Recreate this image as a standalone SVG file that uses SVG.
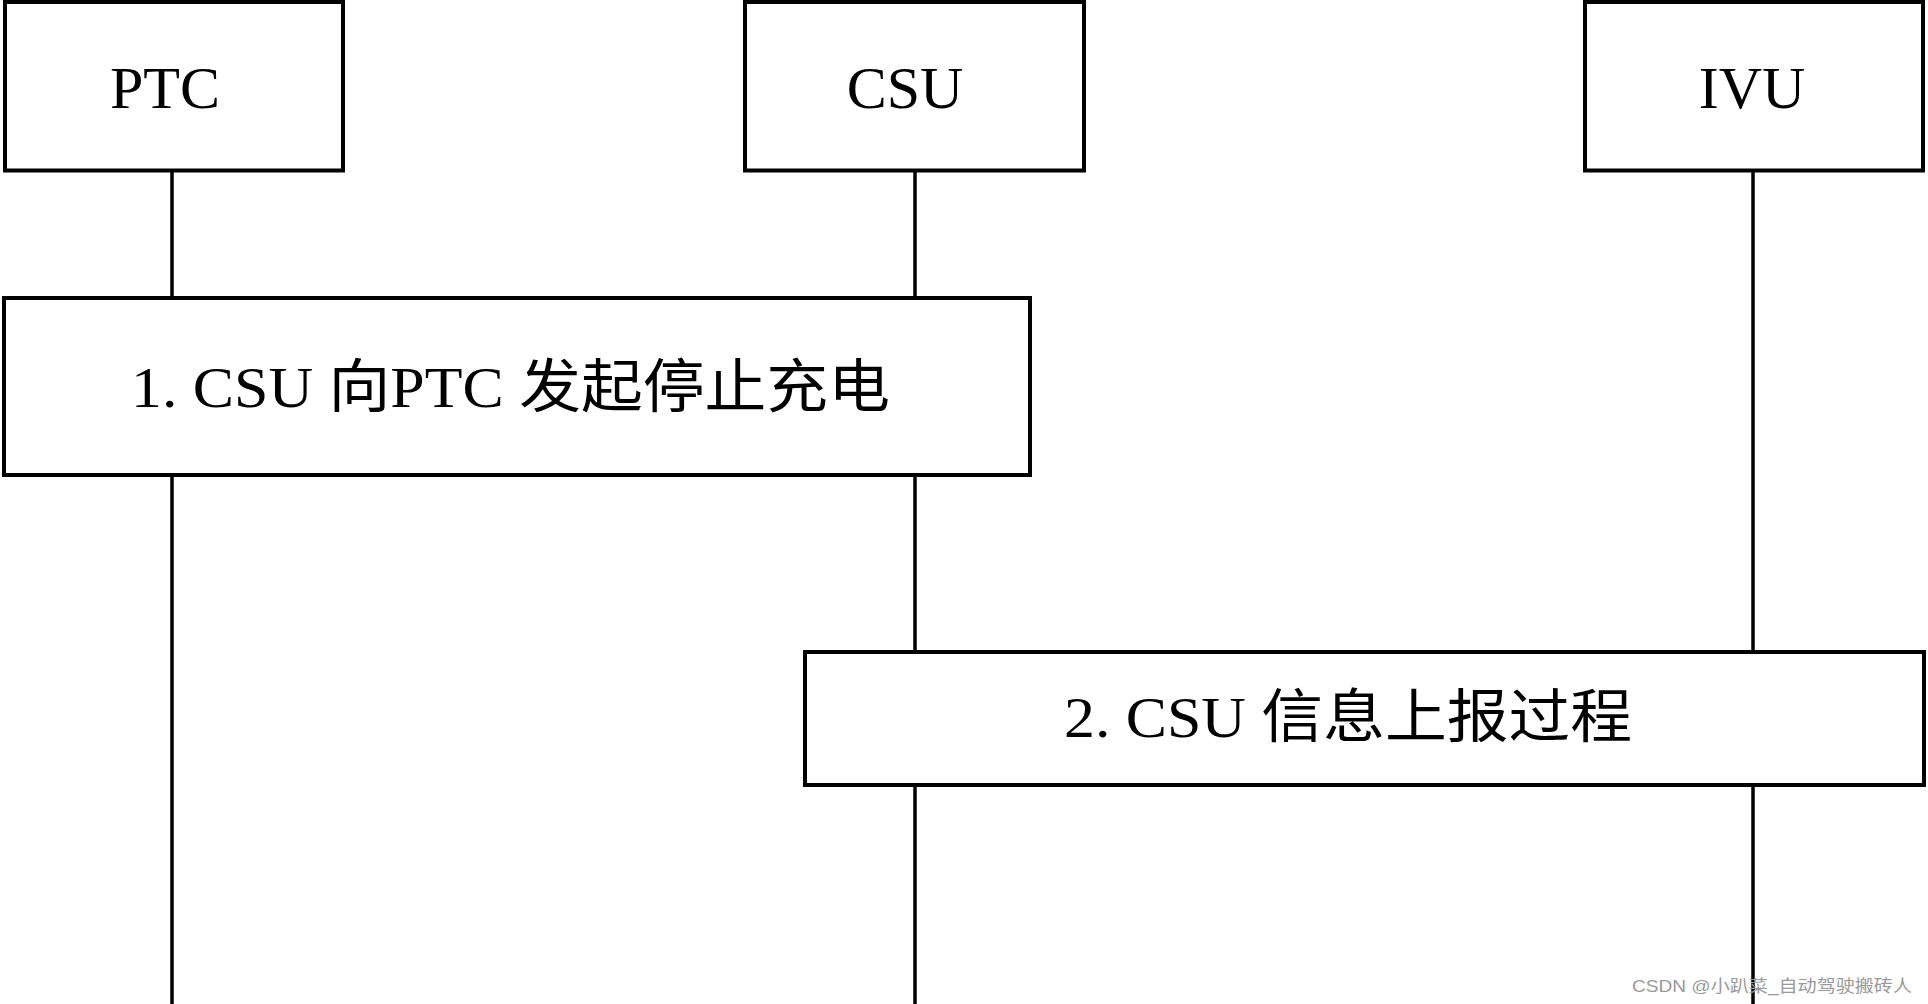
<svg xmlns="http://www.w3.org/2000/svg" width="1928" height="1004" viewBox="0 0 1928 1004">
<style>
.box{fill:#fff;stroke:#000;stroke-width:4}
.life{stroke:#000;stroke-width:3.5;fill:none}
.hd{font-family:"Liberation Serif","Noto Sans CJK SC",serif;font-size:60px;fill:#000;text-anchor:middle}
.lbl{font-family:"Liberation Serif","Noto Sans CJK SC",serif;font-size:58px;fill:#000}
.wm{font-family:"Liberation Sans","Noto Sans CJK SC",sans-serif;font-size:17px;fill:#9a9a9a}
</style>
<rect width="1928" height="1004" fill="#fff"/>
<g id="connectors">
<line class="life" x1="172" y1="172" x2="172" y2="298"/>
<line class="life" x1="172" y1="475" x2="172" y2="1004"/>
<line class="life" x1="915" y1="172" x2="915" y2="298"/>
<line class="life" x1="915" y1="475" x2="915" y2="652"/>
<line class="life" x1="915" y1="785" x2="915" y2="1004"/>
<line class="life" x1="1753" y1="172" x2="1753" y2="652"/>
<line class="life" x1="1753" y1="785" x2="1753" y2="1004"/>
</g>
<g id="node-ptc">
<rect class="box" x="5" y="2" width="338" height="168.5"/>
<text class="hd" x="165" y="108">PTC</text>
</g>
<g id="node-csu">
<rect class="box" x="745" y="2" width="339" height="168.5"/>
<text class="hd" x="905" y="108">CSU</text>
</g>
<g id="node-ivu">
<rect class="box" x="1585" y="2" width="338" height="168.5"/>
<text class="hd" x="1752" y="108">IVU</text>
</g>
<g id="node-step1">
<rect class="box" x="4" y="298" width="1026" height="177"/>
<text class="lbl" x="131" y="407" textLength="759" lengthAdjust="spacingAndGlyphs">1. CSU 向PTC 发起停止充电</text>
</g>
<g id="node-step2">
<rect class="box" x="805" y="652" width="1119" height="133"/>
<text class="lbl" x="1064" y="737" textLength="568" lengthAdjust="spacingAndGlyphs">2. CSU 信息上报过程</text>
</g>
<text class="wm" x="1632" y="992" textLength="280" lengthAdjust="spacingAndGlyphs">CSDN @小趴菜_自动驾驶搬砖人</text>
</svg>
